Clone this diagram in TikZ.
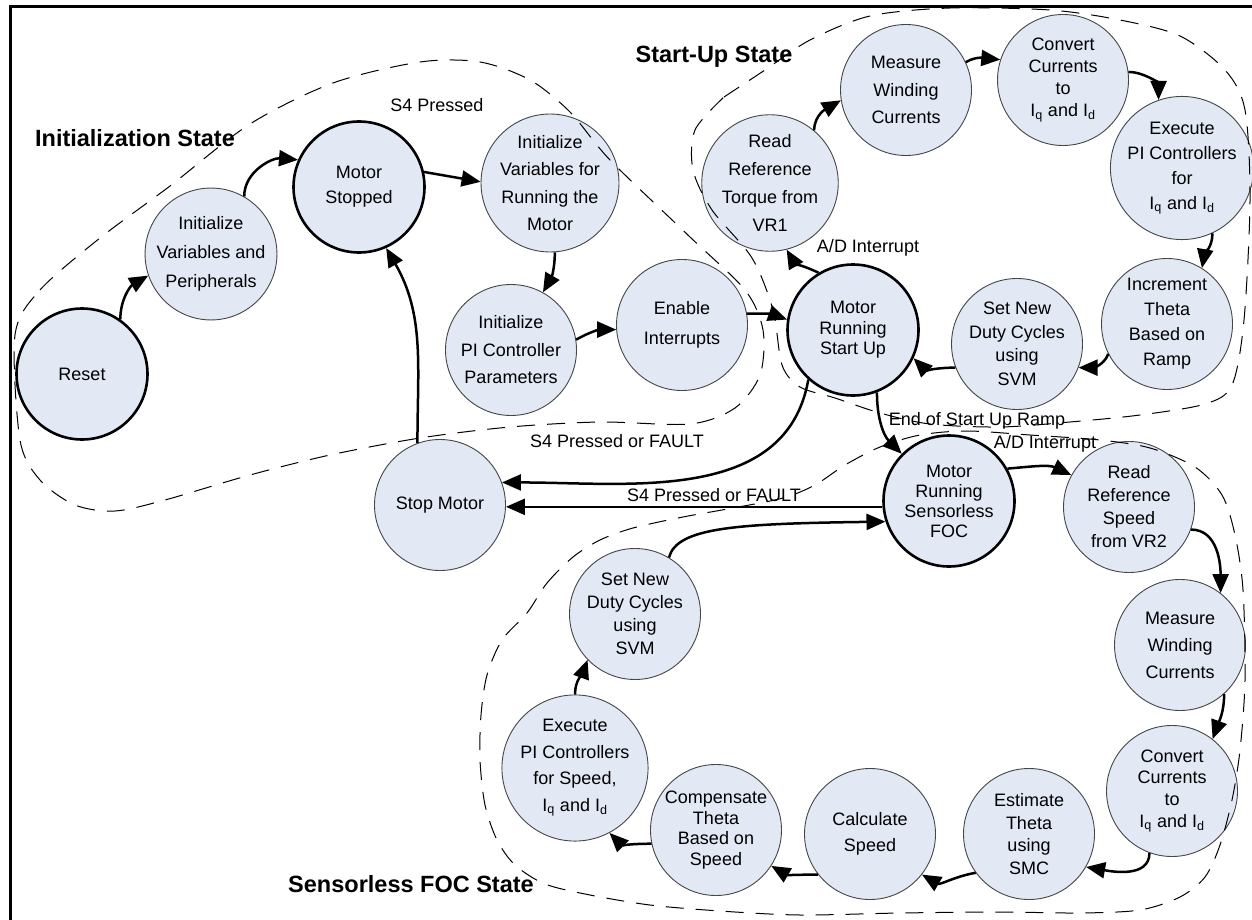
\documentclass[tikz,border=0pt]{standalone}
\usepackage{fontspec}
\setmainfont{Liberation Sans}
\usetikzlibrary{arrows.meta}
\definecolor{cfill}{RGB}{226,233,245}
\definecolor{cline}{RGB}{70,70,70}
\begin{document}
\begin{tikzpicture}[x=1pt,y=1pt,
  st/.style={circle, draw=cline, line width=0.9pt, fill=cfill, minimum size=131pt, inner sep=0pt, align=center, font=\fontsize{18}{#1}\selectfont},
  st/.default=25,
  bst/.style={st={#1}, draw=black, line width=2.6pt},
  bst/.default=25,
  arr/.style={line width=2.5pt, -{Triangle[length=19pt,width=16pt]}},
  lab/.style={font=\fontsize{18}{22}\selectfont, anchor=base},
  ttl/.style={font=\bfseries\fontsize{23.5}{28}\selectfont, anchor=base},
  region/.style={line width=1pt, dash pattern=on 18pt off 12pt}]
\useasboundingbox (0,0) rectangle (1252,-920);
\fill[white] (0,0) rectangle (1252,-920);
\draw[line width=3pt] (10,-920) -- (10,-7) -- (1252,-7);

% states
\node[bst] (reset) at (82,-374) {Reset};
\node[st=29] (initVP) at (211,-254) {Initialize\\Variables and\\Peripherals};
\node[bst=25] (mstop) at (359,-187) {Motor\\Stopped};
\node[st=27.5] (initRun) at (550,-183) {Initialize\\Variables for\\Running the\\Motor};
\node[st=27.5] (initPI) at (511,-350) {Initialize\\PI Controller\\Parameters};
\node[st=30] (enable) at (682,-325) {Enable\\Interrupts};
\node[bst=20.5] (mrsu) at (853,-330) {Motor\\Running\\Start Up};
\node[st=28] (readT) at (770,-183) {Read\\Reference\\Torque from\\VR1};
\node[st=27.5] (measT) at (906,-90) {Measure\\Winding\\Currents};
\node[st=22] (convT) at (1063,-80) {Convert\\Currents\\to\\I\textsubscript{q} and I\textsubscript{d}};
\node[st=25] (execT) at (1182,-168) {Execute\\PI Controllers\\for\\I\textsubscript{q} and I\textsubscript{d}};
\node[st=25] (incr) at (1167,-324) {Increment\\Theta\\Based on\\Ramp};
\node[st=23.5] (setT) at (1017,-344) {Set New\\Duty Cycles\\using\\SVM};
\node[st] (stop) at (440,-505) {Stop Motor};
\node[bst=20] (foc) at (949,-501) {Motor\\Running\\Sensorless\\FOC};
\node[st=23] (readS) at (1129,-507) {Read\\Reference\\Speed\\from VR2};
\node[st=27] (measB) at (1180,-645) {Measure\\Winding\\Currents};
\node[st=21.7] (convB) at (1172,-791) {Convert\\Currents\\to\\I\textsubscript{q} and I\textsubscript{d}};
\node[st=22.5] (estim) at (1029,-834) {Estimate\\Theta\\using\\SMC};
\node[st=26] (calc) at (870,-834) {Calculate\\Speed};
\node[st=20.5] (comp) at (716,-830) {Compensate\\Theta\\Based on\\Speed};
\node[st=26.5] (execS) at (575,-768) {Execute\\PI Controllers\\for Speed,\\I\textsubscript{q} and I\textsubscript{d}};
\node[st=23] (setB) at (635,-614) {Set New\\Duty Cycles\\using\\SVM};

% connectors
\draw[arr] (reset.55) to[out=90,in=210] (initVP.199);
\draw[arr] (initVP.60) to[out=90,in=175] (mstop.156);
\draw[arr] (mstop.13) -- (initRun.179);
\draw[arr] (initRun.274) to[out=-90,in=60] (initPI.61);
\draw[arr] (initPI.9) to[out=30,in=180] (enable.184);
\draw[arr] (enable.10) to[out=0,in=160] (mrsu.171);
\draw[arr] (mrsu.121) to[out=155,in=-60] (readT.284);
\draw[arr] (readT.50) to[out=90,in=210] (measT.189);
\draw[arr] (measT.25) to[out=30,in=175] (convT.162);
\draw[arr] (convT.7) to[out=0,in=90] (execT.109);
\draw[arr] (execT.295) to[out=-90,in=80] (incr.58);
\draw[arr] (incr.207) to[out=250,in=0] (setT.339);
\draw[arr] (setT.201) to[out=180,in=-45] (mrsu.335);
\draw[arr] (mrsu.291) to[out=-90,in=135] (foc.135);
\draw[arr] (mrsu.228) to[out=260,in=0] (stop.20);
\draw[arr] (foc.185) -- (foc.185 -| stop.east);
\draw[arr] (foc.29) to[out=5,in=155] (readS.151);
\draw[arr] (readS.340) to[out=0,in=90] (measB.52);
\draw[arr] (measB.312) to[out=-90,in=70] (convB.52);
\draw[arr] (convB.250) to[out=-90,in=-10] (estim.330);
\draw[arr] (estim.216) to[out=190,in=-30] (calc.322);
\draw[arr] (calc.218) to[out=180,in=-30] (comp.327);
\draw[arr] (comp.192) to[out=180,in=-45] (execS.298);
\draw[arr] (execS.90) to[out=90,in=250] (setB.224);
\draw[arr] (setB.59) .. controls +(8,30) and +(-150,-2) .. (foc.198);
\draw[arr] (stop.110) to[out=90,in=-60] (mstop.294);

% dashed state regions
\draw[region] plot[smooth cycle, tension=0.5] coordinates {
 (15,-335) (40,-290) (100,-238) (170,-186) (250,-124) (333,-83) (420,-62) (480,-62) (530,-80) (570,-112) (610,-160) (690,-237) (745,-290) (763,-330) (760,-375) (735,-408) (690,-424) (600,-422) (510,-427) (420,-438) (330,-455) (250,-475) (165,-500) (115,-511) (75,-505) (40,-480) (20,-440)};
\draw[region] plot[smooth, tension=0.5] coordinates {
 (724,-97) (765,-70) (810,-40) (870,-16) (950,-8) (1050,-10) (1120,-20) (1180,-36) (1225,-70) (1245,-110) (1250,-200) (1244,-320) (1232,-385) (1205,-404) (1140,-415) (1070,-422) (1000,-427) (930,-424) (880,-413) (835,-398) (800,-387) (782,-365) (773,-310) (752,-258) (712,-210) (693,-170) (695,-130) (724,-97)};
\draw[region] plot[smooth cycle, tension=0.5] coordinates {
 (527,-613) (547,-583) (573,-557) (600,-540) (633,-528) (683,-517) (733,-508) (783,-498) (815,-485) (845,-465) (880,-447) (920,-435) (967,-431) (1030,-435) (1100,-440) (1150,-448) (1195,-467) (1222,-495) (1235,-535) (1243,-590) (1245,-680) (1240,-750) (1232,-800) (1220,-845) (1205,-877) (1180,-897) (1140,-910) (1080,-913) (1000,-912) (900,-913) (800,-915) (720,-911) (650,-905) (590,-895) (545,-884) (515,-865) (497,-840) (485,-805) (480,-760) (481,-715) (487,-675) (502,-640)};

% labels
\node[lab] (l1) at (437,-112) {S4 Pressed};
\node[lab] (l2) at (868,-252) {A/D Interrupt};
\node[lab] (l3) at (977,-425) {End of Start Up Ramp};
\node[lab] (l4) at (1045,-448) {A/D Interrupt};
\node[lab] (l5) at (617,-447) {S4 Pressed or FAULT};
\node[lab] (l6) at (714,-501) {S4 Pressed or FAULT};
\node[ttl] (t1) at (135,-147) {Initialization State};
\node[ttl] (t2) at (714,-63) {Start-Up State};
\node[ttl] (t3) at (411,-892) {Sensorless FOC State};
\end{tikzpicture}
\end{document}
